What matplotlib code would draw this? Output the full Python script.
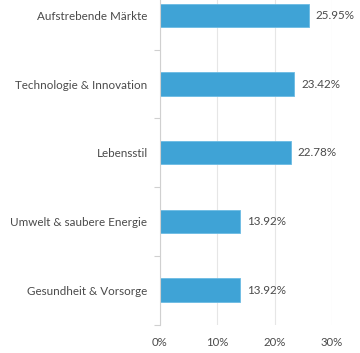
import numpy as np
import matplotlib.pyplot as plt
from matplotlib.ticker import FixedLocator

categories = ['Aufstrebende Märkte', 'Technologie & Innovation', 'Lebensstil',
              'Umwelt & saubere Energie', 'Gesundheit & Vorsorge']
values = [25.95, 23.42, 22.78, 13.92, 13.92]
xticks = [0, 10, 20, 30]

plt.rcParams['font.family'] = ['Lato', 'DejaVu Sans']
text_col = '#4a4a4a'

fig = plt.figure(figsize=(3.6, 3.53), dpi=100)
ax = fig.add_axes([160 / 360, 28.5 / 353, 172 / 360, 343.5 / 353])

y = np.arange(len(categories))
ax.barh(y, values, height=0.34, color='#3fa3d6', edgecolor='#6bbbe3', linewidth=0.6, zorder=3)
for yi, v in zip(y, values):
    ax.text(v + 1.2, yi, f'{v:.2f}%', va='center', ha='left', fontsize=8.4, color=text_col, clip_on=False)

ax.set_xlim(0, 30)
ax.set_ylim(len(categories) - 0.5, -0.5)
ax.set_yticks(y)
ax.set_yticklabels(categories)
ax.yaxis.set_minor_locator(FixedLocator(np.arange(-0.5, len(categories), 1)))
ax.tick_params(axis='y', which='major', length=0, pad=9, labelsize=8.4, labelcolor=text_col)
ax.tick_params(axis='y', which='minor', length=4, color='#d0d0d0', width=0.8)

ax.set_xticks(xticks)
ax.set_xticklabels([f'{t}%' for t in xticks])
ax.tick_params(axis='x', length=0, pad=9, labelsize=8.2, labelcolor=text_col)
ax.grid(axis='x', color='#e6e6e6', linewidth=0.8, zorder=0)

for s in ['top', 'right', 'bottom']:
    ax.spines[s].set_visible(False)
ax.spines['left'].set_color('#d0d0d0')
ax.spines['left'].set_linewidth(0.8)
ax.spines['left'].set_zorder(4)

fig.savefig('out.png', dpi=100)
